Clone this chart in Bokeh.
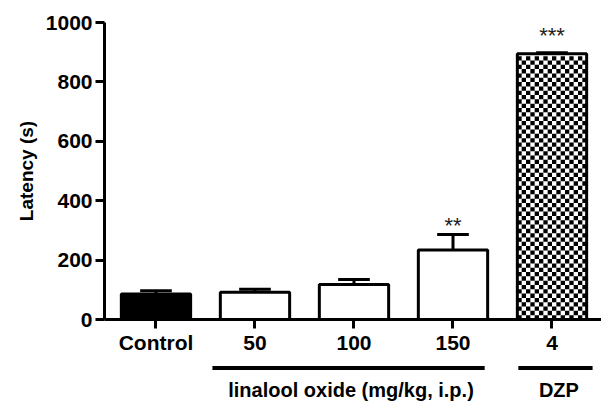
import numpy as np
from bokeh.plotting import figure
from bokeh.layouts import column
from bokeh.models import Range1d, FixedTicker, ColumnDataSource
from bokeh.core.properties import value
from bokeh.embed import file_html
from bokeh.resources import INLINE

# ---- data ----
groups = ["Control", "50", "100", "150", "4"]
group_pos = [0, 1, 2, 3, 4]
latency_mean = [86, 92, 118, 234, 895]
latency_sem = [11, 10, 17, 52, 3]
significance = ["", "", "", "**", "***"]
y_ticks = [0, 200, 400, 600, 800, 1000]
treatments = ["linalool oxide (mg/kg, i.p.)", "DZP"]

FONT = "Liberation Sans"
BAR_W = 0.7
W = 601
H_TOP = 356
H_BOT = 45
BL, BT, BB = 104, 22, 36
X0, X1 = -0.52, 4.5

p = figure(width=W, height=H_TOP, output_backend="svg", toolbar_location=None,
           x_range=Range1d(X0, X1), y_range=Range1d(0, 1000),
           min_border_left=BL, min_border_right=0, min_border_top=BT,
           min_border_bottom=BB)
p.outline_line_color = None
p.grid.visible = False

# ---- error bars (upper half only) ----
tops = [m + s for m, s in zip(latency_mean, latency_sem)]
err = ColumnDataSource(dict(x=group_pos, y0=latency_mean, y1=tops,
                            xl=[g - 0.16 for g in group_pos],
                            xr=[g + 0.16 for g in group_pos]))
p.segment(x0="x", y0="y0", x1="x", y1="y1", source=err, line_color="black",
          line_width=3)
p.segment(x0="xl", y0="y1", x1="xr", y1="y1", source=err, line_color="black",
          line_width=3)

# ---- bars ----
fills = ["black", "white", "white", "white", "white"]
bars = ColumnDataSource(dict(x=group_pos, top=latency_mean, fill=fills))
p.vbar(x="x", top="top", width=BAR_W, source=bars, fill_color="fill",
       line_color=None)

# checkerboard texture inside the DZP bar
px_x = (W - BL) / (X1 - X0)
px_y = (H_TOP - BT - BB) / 1000.0
ncol = 16
cw = BAR_W / ncol
ch = cw * px_x / px_y
nrow = int(latency_mean[4] // ch)
ii, jj = np.meshgrid(np.arange(ncol), np.arange(nrow))
mask = (ii + jj) % 2 == 0
cx = group_pos[4] - BAR_W / 2 + (ii[mask] + 0.5) * cw
cy = (jj[mask] + 0.5) * ch
p.rect(x=cx, y=cy, width=cw, height=ch, fill_color="black", line_color=None)

p.vbar(x="x", top="top", width=BAR_W, source=bars, fill_color=None,
       line_color="black", line_width=3)

# ---- significance stars ----
st = ColumnDataSource(dict(x=group_pos[3:4], y=tops[3:4], t=significance[3:4]))
p.text(x="x", y="y", text="t", source=st, text_align="center",
       text_baseline="alphabetic", text_font=value(FONT), text_font_size="22px",
       text_color="#222222", y_offset=-9)
st2 = ColumnDataSource(dict(x=group_pos[4:], y=tops[4:], t=significance[4:]))
p.text(x="x", y="y", text="t", source=st2, text_align="center",
       text_baseline="alphabetic", text_font=value(FONT), text_font_size="22px",
       text_color="#222222", y_offset=-17)

# ---- axes ----
xa = p.xaxis[0]
xa.ticker = FixedTicker(ticks=group_pos)
xa.major_label_overrides = {g: lab for g, lab in zip(group_pos, groups)}
ya = p.yaxis[0]
ya.ticker = FixedTicker(ticks=y_ticks)
ya.axis_label = "Latency (s)"
for ax in (xa, ya):
    ax.axis_line_width = 3
    ax.axis_line_color = "black"
    ax.major_tick_line_width = 3
    ax.major_tick_line_color = "black"
    ax.major_tick_in = 0
    ax.major_tick_out = 9
    ax.minor_tick_line_color = None
    ax.major_label_text_font = FONT
    ax.major_label_text_font_style = "bold"
    ax.major_label_text_font_size = "21px"
    ax.major_label_text_color = "black"
xa.major_label_standoff = 2
ya.major_label_standoff = 3
ya.axis_label_text_font = FONT
ya.axis_label_text_font_style = "bold"
ya.axis_label_text_font_size = "19px"
ya.axis_label_text_color = "black"
ya.axis_label_standoff = 6

# ---- treatment group annotations below the axis ----
p2 = figure(width=W, height=H_BOT, output_backend="svg", toolbar_location=None,
            x_range=p.x_range, y_range=Range1d(0, H_BOT),
            x_axis_location=None, y_axis_location=None,
            min_border_left=BL, min_border_right=0, min_border_top=0,
            min_border_bottom=0)
p2.outline_line_color = None
p2.grid.visible = False
grp = ColumnDataSource(dict(left=[0.57, 3.66], right=[3.32, 4.41],
                            tx=[1.97, 4.07], label=treatments))
p2.quad(left="left", right="right", top=35.5, bottom=31.5, source=grp,
        fill_color="black", line_color=None)
p2.text(x="tx", y=12, text="label", source=grp, text_align="center",
        text_baseline="middle", text_font=value(FONT),
        text_font_style="bold", text_font_size="20px", text_color="black")

layout = column(p, p2, spacing=0)
open("out.html", "w").write(file_html(layout, INLINE))
